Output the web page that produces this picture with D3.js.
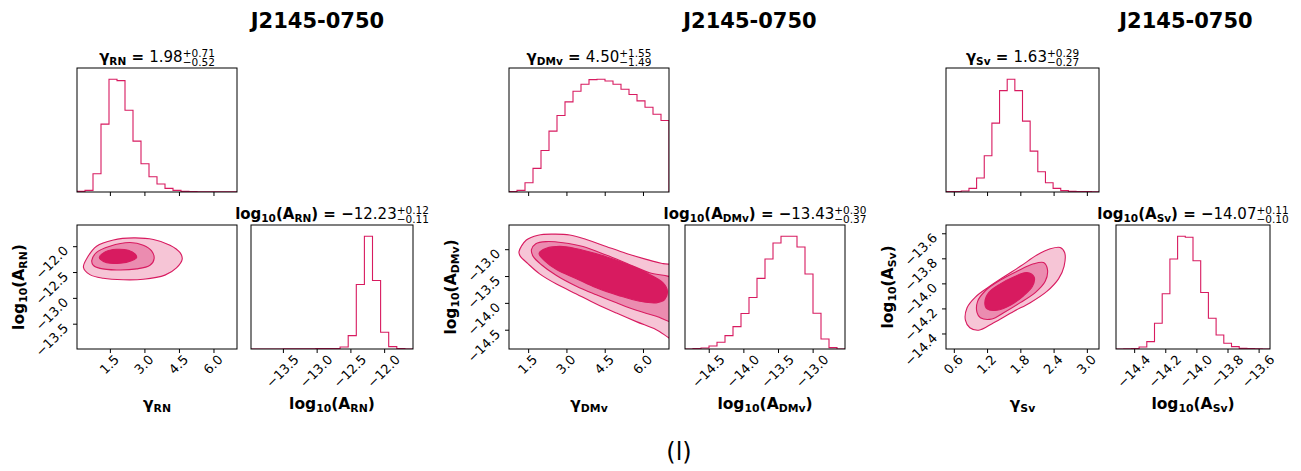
<!DOCTYPE html>
<html>
<head>
<meta charset="utf-8">
<script src="https://cdn.jsdelivr.net/npm/d3@7"></script>
<style>
  html, body { margin: 0; padding: 0; background: #fff; }
  text { font-family: "DejaVu Sans", sans-serif; fill: #000; }
</style>
</head>
<body>
<svg id="fig" width="1301" height="471"></svg>
<script>
// ---------------- data ----------------
const pulsarName = "J2145-0750";
const figureTag = "(l)";
const noiseKeys = ["RN", "DMv", "Sv"];

// spectral index gamma: marginal histograms (20 bins over the plotted range)
const rnGammaRange = [0.05, 7.0];
const rnGammaCounts = [2, 5, 55, 204, 339, 335, 246, 153, 85, 46, 24, 11, 5, 2, 1, 0.5, 0.4, 0.3, 0.3, 0.3];
const dmGammaRange = [0.73, 7.0];
const dmGammaCounts = [1, 5, 28, 71, 125, 183, 230, 271, 303, 324, 338, 339, 334, 324, 309, 293, 274, 255, 234, 215];
const svGammaRange = [0.45, 3.21];
const svGammaCounts = [1, 1, 3, 11, 42, 109, 207, 305, 339, 305, 213, 123, 61, 28, 11, 4, 2, 1, 1, 0.5];

// log10 amplitude: marginal histograms
const rnAmpRange = [-13.98, -11.58];
const rnAmpCounts = [0, 0, 0, 0, 0.5, 0.5, 0.5, 0.5, 1, 1, 1, 6, 40, 193, 337, 205, 50, 7, 1, 0];
const dmAmpRange = [-14.85, -12.54];
const dmAmpCounts = [0, 1, 3, 9, 20, 40, 67, 106, 154, 211, 269, 317, 337, 337, 305, 224, 107, 30, 4, 0];
const svAmpRange = [-14.52, -13.53];
const svAmpCounts = [0, 0.5, 1, 6, 22, 77, 165, 269, 337, 334, 264, 169, 92, 42, 17, 7, 2, 1, 0.5, 0];

// summary statistics: [median, +err, -err]
const rnGammaStat = [1.98, 0.71, 0.52];
const rnAmpStat = [-12.23, 0.12, 0.11];
const dmGammaStat = [4.50, 1.55, 1.49];
const dmAmpStat = [-13.43, 0.30, 0.37];
const svGammaStat = [1.63, 0.29, 0.27];
const svAmpStat = [-14.07, 0.11, 0.10];

// joint posterior credible contours [gamma, log10 A]: outer, middle, inner
const rnOuter = [[0.33,-12.40],[0.50,-12.21],[0.90,-11.99],[1.63,-11.87],[2.50,-11.83],[3.37,-11.86],[4.09,-11.97],[4.52,-12.11],[4.62,-12.24],[4.37,-12.41],[3.87,-12.55],[2.93,-12.63],[2.06,-12.64],[1.19,-12.61],[0.61,-12.54]];
const rnMiddle = [[0.69,-12.27],[0.90,-12.11],[1.48,-11.99],[2.35,-11.92],[2.93,-11.97],[3.29,-12.08],[3.40,-12.23],[3.22,-12.36],[2.64,-12.43],[1.77,-12.45],[1.05,-12.42],[0.76,-12.36]];
const rnInner = [[1.02,-12.21],[1.27,-12.10],[1.77,-12.05],[2.28,-12.07],[2.57,-12.14],[2.64,-12.21],[2.42,-12.27],[1.92,-12.32],[1.34,-12.31],[1.08,-12.25]];

const dmOuter = [[1.12,-13.04],[1.41,-12.82],[1.87,-12.73],[2.45,-12.71],[3.11,-12.725],[3.76,-12.81],[4.54,-12.94],[5.33,-13.07],[6.11,-13.18],[6.77,-13.26],[7.3,-13.32],[7.3,-14.68],[6.50,-14.49],[5.72,-14.34],[4.94,-14.18],[4.15,-14.01],[3.37,-13.825],[2.59,-13.64],[1.93,-13.45],[1.47,-13.26],[1.17,-13.12]];
const dmMiddle = [[1.61,-13.00],[1.78,-12.89],[2.19,-12.85],[2.85,-12.87],[3.63,-12.94],[4.54,-13.10],[5.46,-13.28],[6.24,-13.43],[7.3,-13.58],[7.3,-14.35],[6.50,-14.24],[5.72,-14.13],[4.94,-13.99],[4.15,-13.84],[3.37,-13.68],[2.59,-13.48],[2.00,-13.28],[1.67,-13.12]];
const dmInner = [[1.91,-13.07],[2.19,-12.975],[2.85,-12.94],[3.63,-13.01],[4.54,-13.13],[5.46,-13.29],[6.24,-13.46],[6.77,-13.62],[6.94,-13.775],[6.83,-13.93],[6.50,-13.99],[5.85,-13.96],[5.07,-13.86],[4.15,-13.71],[3.37,-13.54],[2.59,-13.37],[2.13,-13.21]];

const svOuter = [[0.80,-14.29],[0.83,-14.19],[0.98,-14.105],[1.22,-14.025],[1.49,-13.945],[1.79,-13.86],[2.09,-13.77],[2.33,-13.72],[2.51,-13.71],[2.59,-13.75],[2.58,-13.86],[2.48,-13.96],[2.27,-14.06],[1.97,-14.15],[1.67,-14.22],[1.31,-14.31],[1.04,-14.37],[0.88,-14.35]];
const svMiddle = [[1.01,-14.23],[1.02,-14.14],[1.16,-14.055],[1.43,-13.97],[1.73,-13.90],[2.03,-13.84],[2.21,-13.83],[2.28,-13.885],[2.24,-13.98],[2.06,-14.07],[1.79,-14.15],[1.49,-14.23],[1.28,-14.28],[1.07,-14.27]];
const svInner = [[1.15,-14.15],[1.22,-14.07],[1.43,-14.00],[1.67,-13.945],[1.91,-13.91],[2.04,-13.945],[2.01,-14.02],[1.85,-14.095],[1.61,-14.17],[1.37,-14.21],[1.19,-14.20]];

// tick values
const rnGammaTicks = [1.5, 3.0, 4.5, 6.0];
const rnAmpTicks = [-13.5, -13.0, -12.5, -12.0];
const dmGammaTicks = [1.5, 3.0, 4.5, 6.0];
const dmAmpTicks = [-14.5, -14.0, -13.5, -13.0];
const svGammaTicks = [0.6, 1.2, 1.8, 2.4, 3.0];
const svAmpTicks = [-14.4, -14.2, -14.0, -13.8, -13.6];

// ---------------- style & layout ----------------
const lineColor = "#d81b60";
const fillColors = ["#f6c5d6", "#eb8cb0", "#d81b60"];
const panelBoxes = [
  { x0: 77,  x1: 237,  r0: 251,  r1: 413,  title: 317.5 },
  { x0: 509, x1: 669,  r0: 685,  r1: 845,  title: 750 },
  { x0: 946, x1: 1099, r0: 1116, r1: 1270, title: 1186 }
];
const topRow = [68, 192];
const lowRow = [225, 349];

const panels = [
  { sub: noiseKeys[0], gRange: rnGammaRange, gCounts: rnGammaCounts, aRange: rnAmpRange, aCounts: rnAmpCounts,
    gStat: rnGammaStat, aStat: rnAmpStat, contours: [rnOuter, rnMiddle, rnInner], gTicks: rnGammaTicks, aTicks: rnAmpTicks },
  { sub: noiseKeys[1], gRange: dmGammaRange, gCounts: dmGammaCounts, aRange: dmAmpRange, aCounts: dmAmpCounts,
    gStat: dmGammaStat, aStat: dmAmpStat, contours: [dmOuter, dmMiddle, dmInner], gTicks: dmGammaTicks, aTicks: dmAmpTicks },
  { sub: noiseKeys[2], gRange: svGammaRange, gCounts: svGammaCounts, aRange: svAmpRange, aCounts: svAmpCounts,
    gStat: svGammaStat, aStat: svAmpStat, contours: [svOuter, svMiddle, svInner], gTicks: svGammaTicks, aTicks: svAmpTicks }
];

const svg = d3.select("#fig");
const fmt1 = d3.format(".1f");
const fmt2 = d3.format(".2f");
const TICK_FS = 13;
const TITLE_FS = 15;
const LABEL_FS = 15.5;
let clipId = 0;

// text assembled from pieces: {t, b, s (scale), dy (em)} or {stack:[sup, sub]}
function richText(parent, size, parts) {
  const g = parent.append("g");
  let cx = 0;
  parts.forEach(p => {
    if (p.stack) {
      const fs = size * 0.7;
      const a = g.append("text").attr("x", cx).attr("y", -size * 0.36)
        .style("font-size", fs + "px").text(p.stack[0]);
      const b = g.append("text").attr("x", cx).attr("y", size * 0.27)
        .style("font-size", fs + "px").text(p.stack[1]);
      cx += Math.max(a.node().getComputedTextLength(), b.node().getComputedTextLength());
    } else {
      const fs = size * (p.s || 1);
      const t = g.append("text").attr("x", cx).attr("y", (p.dy || 0) * size)
        .style("font-size", fs + "px").style("font-weight", p.b ? "bold" : "normal")
        .style("white-space", "pre").text(p.t);
      cx += t.node().getComputedTextLength();
    }
  });
  g.selectAll("text").attr("transform", `translate(${-cx / 2},0)`);
  return g;
}

const symGamma = sub => [{ t: "γ", b: 1 }, { t: sub, b: 1, s: 0.7, dy: 0.22 }];
const symAmp = sub => [{ t: "log", b: 1 }, { t: "10", b: 1, s: 0.7, dy: 0.22 }, { t: "(A", b: 1 },
                       { t: sub, b: 1, s: 0.7, dy: 0.22 }, { t: ")", b: 1 }];
function statParts(stat) {
  const v = fmt2(stat[0]);
  const neg = v.startsWith("−");
  return [{ t: neg ? " = −" : " = ", b: 1 }, { t: neg ? v.slice(1) : v },
          { stack: ["+" + fmt2(stat[1]), "−" + fmt2(stat[2])] }];
}

function frame(x0, x1, y0, y1) {
  svg.append("rect").attr("x", x0).attr("y", y0).attr("width", x1 - x0).attr("height", y1 - y0)
    .attr("fill", "none").attr("stroke", "#000").attr("stroke-width", 1);
}
function clipFor(x0, x1, y0, y1) {
  const id = "clip" + (clipId++);
  svg.append("clipPath").attr("id", id).append("rect")
    .attr("x", x0).attr("y", y0).attr("width", x1 - x0).attr("height", y1 - y0);
  return `url(#${id})`;
}

// step-outline histogram
function histogram(x0, x1, y0, y1, range, counts) {
  const x = d3.scaleLinear().domain(range).range([x0, x1]);
  const y = d3.scaleLinear().domain([0, 1.1 * d3.max(counts)]).range([y1, y0]);
  const w = (range[1] - range[0]) / counts.length;
  const pts = [[range[0], 0]];
  counts.forEach((c, i) => { pts.push([range[0] + i * w, c]); pts.push([range[0] + (i + 1) * w, c]); });
  pts.push([range[1], 0]);
  svg.append("path").attr("clip-path", clipFor(x0, x1, y0, y1))
    .attr("d", d3.line().x(d => x(d[0])).y(d => y(d[1]))(pts))
    .attr("fill", "none").attr("stroke", lineColor).attr("stroke-width", 1.1);
  frame(x0, x1, y0, y1);
  return x;
}

function xTicks(scale, ticks, yBottom, labels) {
  ticks.forEach(v => {
    const px = scale(v);
    svg.append("line").attr("x1", px).attr("x2", px).attr("y1", yBottom).attr("y2", yBottom + 4)
      .attr("stroke", "#000").attr("stroke-width", 1);
    if (!labels) return;
    const t = svg.append("text").style("font-size", TICK_FS + "px").attr("text-anchor", "middle")
      .attr("dy", "0.35em").text(fmt1(v));
    const L = t.node().getComputedTextLength();
    const bb = (L + TICK_FS * 0.9) * 0.707;
    t.attr("transform", `translate(${px - 1},${yBottom + 4 + bb / 2}) rotate(-45)`);
  });
}
function yTicks(scale, ticks, xLeft) {
  ticks.forEach(v => {
    const py = scale(v);
    svg.append("line").attr("x1", xLeft - 4).attr("x2", xLeft).attr("y1", py).attr("y2", py)
      .attr("stroke", "#000").attr("stroke-width", 1);
    const t = svg.append("text").style("font-size", TICK_FS + "px").attr("text-anchor", "middle")
      .attr("dy", "0.35em").text(fmt1(v));
    const L = t.node().getComputedTextLength();
    const bb = (L + TICK_FS * 0.9) * 0.707;
    t.attr("transform", `translate(${xLeft - 7 - bb / 2},${py + bb * 0.43}) rotate(-45)`);
  });
}

panels.forEach((p, i) => {
  const box = panelBoxes[i];

  // figure heading
  svg.append("text").attr("x", box.title).attr("y", 28).attr("text-anchor", "middle")
    .style("font-size", "21px").style("font-weight", "bold").text(pulsarName);

  // gamma marginal
  const gx = histogram(box.x0, box.x1, topRow[0], topRow[1], p.gRange, p.gCounts);
  xTicks(gx, p.gTicks, topRow[1], false);
  richText(svg, TITLE_FS, symGamma(p.sub).concat(statParts(p.gStat)))
    .attr("transform", `translate(${(box.x0 + box.x1) / 2},62)`);

  // joint distribution
  const x = d3.scaleLinear().domain(p.gRange).range([box.x0, box.x1]);
  const y = d3.scaleLinear().domain(p.aRange).range([lowRow[1], lowRow[0]]);
  const shape = d3.line().x(d => x(d[0])).y(d => y(d[1])).curve(d3.curveCatmullRomClosed.alpha(0.5));
  const cg = svg.append("g").attr("clip-path", clipFor(box.x0, box.x1, lowRow[0], lowRow[1]));
  p.contours.forEach((poly, k) => {
    cg.append("path").attr("d", shape(poly)).attr("fill", fillColors[k])
      .attr("stroke", lineColor).attr("stroke-width", 1.1).attr("stroke-linejoin", "round");
  });
  frame(box.x0, box.x1, lowRow[0], lowRow[1]);
  xTicks(x, p.gTicks, lowRow[1], true);
  yTicks(y, p.aTicks, box.x0);

  // amplitude marginal
  const ax = histogram(box.r0, box.r1, lowRow[0], lowRow[1], p.aRange, p.aCounts);
  xTicks(ax, p.aTicks, lowRow[1], true);
  richText(svg, TITLE_FS, symAmp(p.sub).concat(statParts(p.aStat)))
    .attr("transform", `translate(${(box.r0 + box.r1) / 2},219)`);

  // axis labels
  richText(svg, LABEL_FS, symGamma(p.sub)).attr("transform", `translate(${(box.x0 + box.x1) / 2},409)`);
  richText(svg, LABEL_FS, symAmp(p.sub)).attr("transform", `translate(${(box.r0 + box.r1) / 2},409)`);
  richText(svg, LABEL_FS, symAmp(p.sub))
    .attr("transform", `translate(${box.x0 - 53},${(lowRow[0] + lowRow[1]) / 2}) rotate(-90)`);
});

svg.append("text").attr("x", 679).attr("y", 460).attr("text-anchor", "middle")
  .style("font-size", "24px").text(figureTag);
</script>
</body>
</html>
